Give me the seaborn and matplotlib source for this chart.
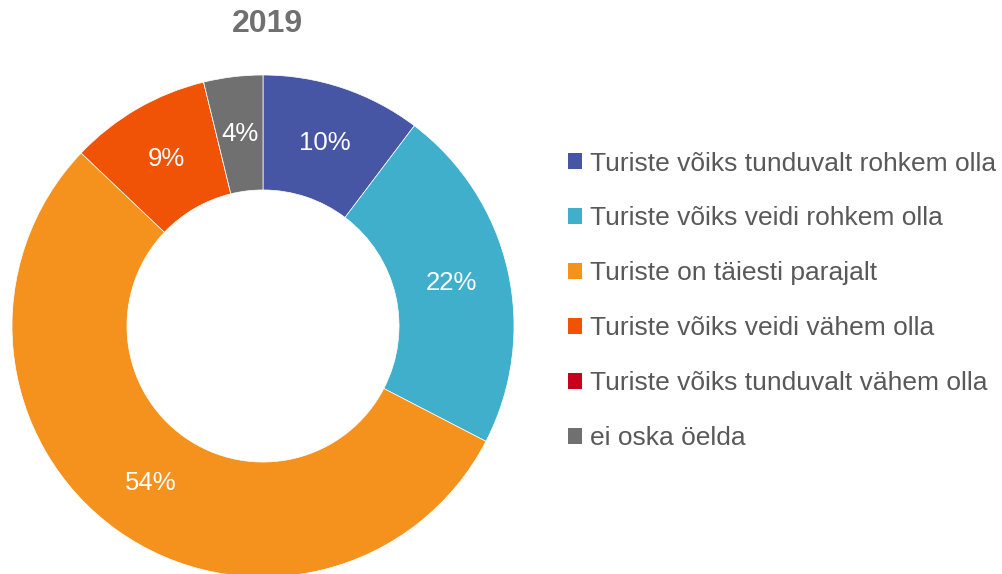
import matplotlib
matplotlib.use("Agg")
import matplotlib.pyplot as plt
import seaborn as sns
from matplotlib.patches import Patch

categories = [
    "Turiste võiks tunduvalt rohkem olla",
    "Turiste võiks veidi rohkem olla",
    "Turiste on täiesti parajalt",
    "Turiste võiks veidi vähem olla",
    "Turiste võiks tunduvalt vähem olla",
    "ei oska öelda",
]
values = [10.3, 22.3, 54.5, 9.1, 0.0, 3.8]
colors = ["#4755A5", "#3FAFCC", "#F5921E", "#F05206", "#C8001E", "#707070"]
title = "2019"

sns.set_theme(style="white")
plt.rcParams["font.family"] = ["Liberation Sans", "DejaVu Sans"]

fig = plt.figure(figsize=(10.02, 5.74), dpi=100)
W, H = 1002, 574
cx, cy, R = 263, 326, 251
ax = fig.add_axes([(cx - R) / W, (H - cy - R) / H, 2 * R / W, 2 * R / H])

def fmt(p):
    return f"{p:.0f}%" if p > 0.5 else ""

wedges, texts, autotexts = ax.pie(
    values, colors=colors, startangle=90, counterclock=False,
    autopct=fmt, pctdistance=0.77,
    wedgeprops=dict(width=0.458, edgecolor="white", linewidth=0.5),
    textprops=dict(color="white", fontsize=18.5),
)
ax.set_xlim(-1, 1)
ax.set_ylim(-1, 1)
ax.set_aspect("equal")
ax.axis("off")

fig.text(267 / W, 1 - 24 / H, title, ha="center", va="center",
         fontsize=23, fontweight="bold", color="#707070")

handles = [Patch(facecolor=c, edgecolor="none") for c in colors]
leg = fig.legend(handles, categories, loc="upper left",
                 bbox_to_anchor=(557 / W, 1 - 141 / H), frameon=False,
                 fontsize=19, handlelength=0.55, handleheight=0.55,
                 handletextpad=0.3, labelspacing=1.17, borderaxespad=0)
for t in leg.get_texts():
    t.set_color("#595959")

fig.savefig("out.png", dpi=100)
